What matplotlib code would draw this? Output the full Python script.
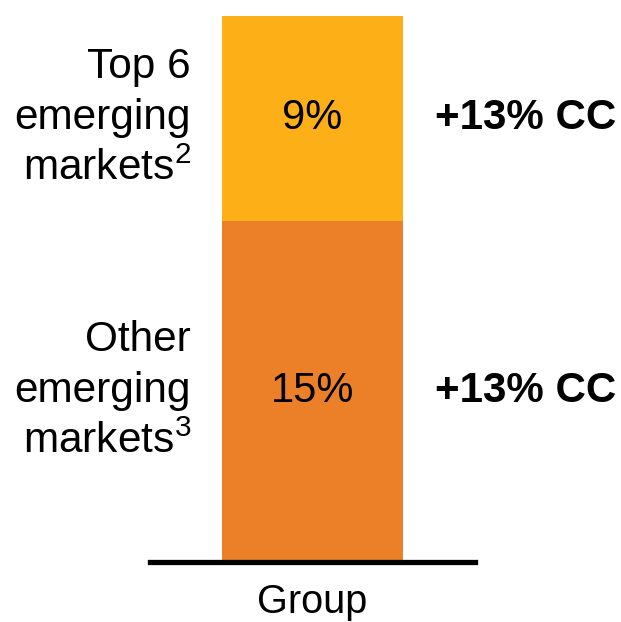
import matplotlib.pyplot as plt

plt.rcParams['font.family'] = ['Liberation Sans', 'DejaVu Sans']
plt.rcParams['mathtext.fontset'] = 'custom'
plt.rcParams['mathtext.rm'] = 'Liberation Sans'
plt.rcParams['mathtext.default'] = 'regular'

# Group sales share of emerging markets, with constant-currency growth
segments = ['Other\nemerging\nmarkets$^3$', 'Top 6\nemerging\nmarkets$^2$']
shares = [15, 9]
growth = ['+13% CC', '+13% CC']
colors = ['#EC8029', '#FCAF17']
category = 'Group'

fig = plt.figure(figsize=(6.21, 6.22), dpi=100)
ax = fig.add_axes([150 / 621, 1 - 562 / 622, 325 / 621, 548 / 622])

bottom = 0
for name, share, g, c in zip(segments, shares, growth, colors):
    ax.bar(0, share, width=0.557, bottom=bottom, color=c, zorder=1)
    mid = bottom + share / 2
    ax.text(0, mid, f'{share}%', ha='center', va='center', fontsize=30)
    ax.text(-0.374, mid, name, ha='right', va='center', fontsize=30.5,
            linespacing=1.35, clip_on=False)
    ax.text(0.377, mid, g, ha='left', va='center', fontsize=30.3,
            fontweight='bold', clip_on=False)
    bottom += share

ax.set_xlim(-0.5, 0.5)
ax.set_ylim(0, sum(shares) * 548 / 546)
ax.set_xticks([0])
ax.set_xticklabels([category], fontsize=28.5)
ax.tick_params(axis='x', length=0, pad=15)
ax.set_yticks([])
for side in ['top', 'left', 'right']:
    ax.spines[side].set_visible(False)
ax.spines['bottom'].set_linewidth(3.8)
ax.spines['bottom'].set_zorder(3)

fig.savefig('out.png', dpi=100)
